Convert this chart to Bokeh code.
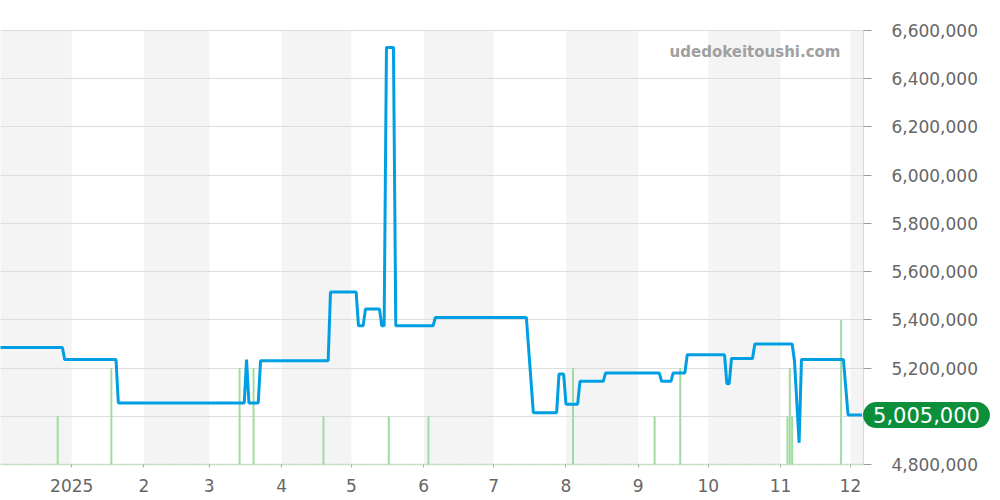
from datetime import datetime
import pandas as pd
from bokeh.plotting import figure
from bokeh.models import (Range1d, FixedTicker, NumeralTickFormatter, BoxAnnotation,
                          Label, Span, ColumnDataSource)
from bokeh.embed import file_html
from bokeh.resources import INLINE

# ---------------- data ----------------
price_dates = [
    "2024-12-01", "2024-12-28", "2024-12-29", "2025-01-20", "2025-01-21",
    "2025-03-16", "2025-03-17", "2025-03-18", "2025-03-22", "2025-03-23",
    "2025-04-21", "2025-04-22", "2025-05-03", "2025-05-04", "2025-05-06",
    "2025-05-07", "2025-05-13", "2025-05-14", "2025-05-15", "2025-05-16",
    "2025-05-19", "2025-05-20", "2025-06-05", "2025-06-06", "2025-07-15",
    "2025-07-18", "2025-07-28", "2025-07-29", "2025-07-31", "2025-08-01",
    "2025-08-06", "2025-08-07", "2025-08-17", "2025-08-18", "2025-09-10",
    "2025-09-11", "2025-09-15", "2025-09-16", "2025-09-21", "2025-09-22",
    "2025-10-08", "2025-10-09", "2025-10-10", "2025-10-11", "2025-10-20",
    "2025-10-21", "2025-11-06", "2025-11-07", "2025-11-09", "2025-11-10",
    "2025-11-28", "2025-11-30", "2025-12-06",
]
price_values = [
    5285000, 5285000, 5235000, 5235000, 5055000,
    5055000, 5235000, 5055000, 5055000, 5230000,
    5230000, 5515000, 5515000, 5375000, 5375000,
    5445000, 5445000, 5375000, 5375000, 6530000,
    6530000, 5375000, 5375000, 5410000, 5410000,
    5015000, 5015000, 5175000, 5175000, 5050000,
    5050000, 5145000, 5145000, 5180000, 5180000,
    5145000, 5145000, 5180000, 5180000, 5255000,
    5255000, 5135000, 5135000, 5240000, 5240000,
    5300000, 5300000, 5230000, 4890000, 5235000,
    5235000, 5005000, 5005000,
]

sale_dates = [
    "2024-12-26", "2025-01-18", "2025-03-14", "2025-03-20", "2025-04-19",
    "2025-05-17", "2025-06-03", "2025-08-04", "2025-09-08", "2025-09-19",
    "2025-11-04", "2025-11-05", "2025-11-06", "2025-11-27",
]
sale_counts = [1, 2, 2, 2, 1, 1, 1, 2, 1, 2, 1, 2, 1, 3]

tick_months = ["2025-01-01", "2025-02-01", "2025-03-01", "2025-04-01", "2025-05-01",
               "2025-06-01", "2025-07-01", "2025-08-01", "2025-09-01", "2025-10-01",
               "2025-11-01", "2025-12-01"]
tick_labels = ["2025", "2", "3", "4", "5", "6", "7", "8", "9", "10", "11", "12"]

y_ticks = [4800000, 5000000, 5200000, 5400000, 5600000, 5800000,
           6000000, 6200000, 6400000, 6600000]

last_price_text = "5,005,000"
last_price = 5005000
watermark_text = "udedokeitoushi.com"

# ---------------- geometry ----------------
FONT = "DejaVu Sans"
Y_MIN, Y_MAX = 4800000, 6600000          # chart area value range
PX_TOP, PX_BOTTOM, H = 30, 464, 500      # chart area pixel rows inside the canvas
per_px = (Y_MAX - Y_MIN) / (PX_BOTTOM - PX_TOP)
y_lo = Y_MIN - (H - PX_BOTTOM) * per_px
y_hi = Y_MAX + PX_TOP * per_px
VOL_UNIT = 200000                        # one sale drawn as this many price units

x_start = datetime(2024, 12, 1, 11, 0)
plot_end = datetime(2025, 12, 6, 14, 0)       # right edge of the chart area
canvas_end = datetime(2026, 1, 30, 22, 30)    # right edge of the canvas

p = figure(width=992, height=H, x_axis_type="datetime",
           x_range=Range1d(x_start, canvas_end),
           y_range=Range1d(y_lo, y_hi),
           output_backend="svg", toolbar_location=None,
           min_border_left=0, min_border_top=0, min_border_right=0,
           min_border_bottom=0, y_axis_location="right")
p.outline_line_color = None
p.background_fill_color = "white"
p.border_fill_color = "white"
p.extra_y_ranges = {"vol": Range1d((y_lo - Y_MIN) / VOL_UNIT, (y_hi - Y_MIN) / VOL_UNIT)}

# alternating month bands
month_starts = pd.date_range("2024-12-01", "2026-01-01", freq="MS")
for i in range(len(month_starts) - 1):
    if i % 2 == 0:
        p.add_layout(BoxAnnotation(left=month_starts[i], right=month_starts[i + 1],
                                   bottom=Y_MIN, top=Y_MAX,
                                   fill_color="#f4f4f4", fill_alpha=1.0,
                                   line_color=None, level="image"))

# grids
p.xgrid.visible = False
p.ygrid.grid_line_color = "#dddddd"
p.ygrid.grid_line_width = 1
p.ygrid.ticker = FixedTicker(ticks=y_ticks)

# baseline of the volume bars
p.add_layout(Span(location=0, dimension="width", y_range_name="vol",
                  line_color="#a2dba2", line_width=2, line_dash="1 2", level="underlay"))

# blank area right of the chart (axis area)
p.add_layout(BoxAnnotation(left=plot_end, fill_color="white", fill_alpha=1.0,
                           line_color=None, level="underlay"))

# volume bars
sale_x = pd.to_datetime(sale_dates)
vol_src = ColumnDataSource(dict(x=sale_x, y0=[0] * len(sale_counts), y1=sale_counts))
p.segment(x0="x", x1="x", y0="y0", y1="y1", source=vol_src, y_range_name="vol",
          line_color="#a2dba2", line_width=2)

# price line
price_src = ColumnDataSource(dict(x=pd.to_datetime(price_dates), y=price_values))
p.line("x", "y", source=price_src, line_color="#009fe3", line_width=3)

# axes
yax = p.yaxis[0]
yax.fixed_location = pd.Timestamp(plot_end).value / 1e6
yax.bounds = (Y_MIN, Y_MAX)
yax.ticker = FixedTicker(ticks=y_ticks)
yax.formatter = NumeralTickFormatter(format="0,0")
yax.major_label_overrides = {5000000: ""}
yax.major_label_text_font = FONT
yax.major_label_text_font_size = "17px"
yax.major_label_text_color = "#666666"
yax.axis_line_color = "#d8d8d8"
yax.major_tick_line_color = "#999999"
yax.major_tick_out = 8
yax.major_tick_in = 0
yax.minor_tick_line_color = None
yax.major_label_standoff = 20

xax = p.xaxis[0]
xax.fixed_location = Y_MIN
tick_ms = [pd.Timestamp(t).value / 1e6 for t in tick_months]
xax.ticker = FixedTicker(ticks=tick_ms)
xax.major_label_overrides = {ms: lab for ms, lab in zip(tick_ms, tick_labels)}
xax.major_label_text_font = FONT
xax.major_label_text_font_size = "17px"
xax.major_label_text_color = "#666666"
xax.axis_line_color = None
xax.major_tick_line_color = "#aaaaaa"
xax.major_tick_out = 3
xax.major_tick_in = 0
xax.minor_tick_line_color = None
xax.major_label_standoff = 11

# watermark
p.add_layout(Label(x=840, x_units="screen", y=6510000, y_units="data",
                   text=watermark_text, text_align="right", text_baseline="middle",
                   text_font=FONT, text_font_style="bold", text_font_size="15px",
                   text_color="#a0a0a0"))

# last price badge
p.add_layout(Label(x=926, x_units="screen", y=last_price, y_units="data",
                   text=last_price_text, text_align="center", text_baseline="middle",
                   text_font=FONT, text_font_size="21px", text_color="white",
                   background_fill_color="#0b8f3b", background_fill_alpha=1.0,
                   border_radius=17, padding=(10, 5)))

open("out.html", "w").write(file_html(p, INLINE))
